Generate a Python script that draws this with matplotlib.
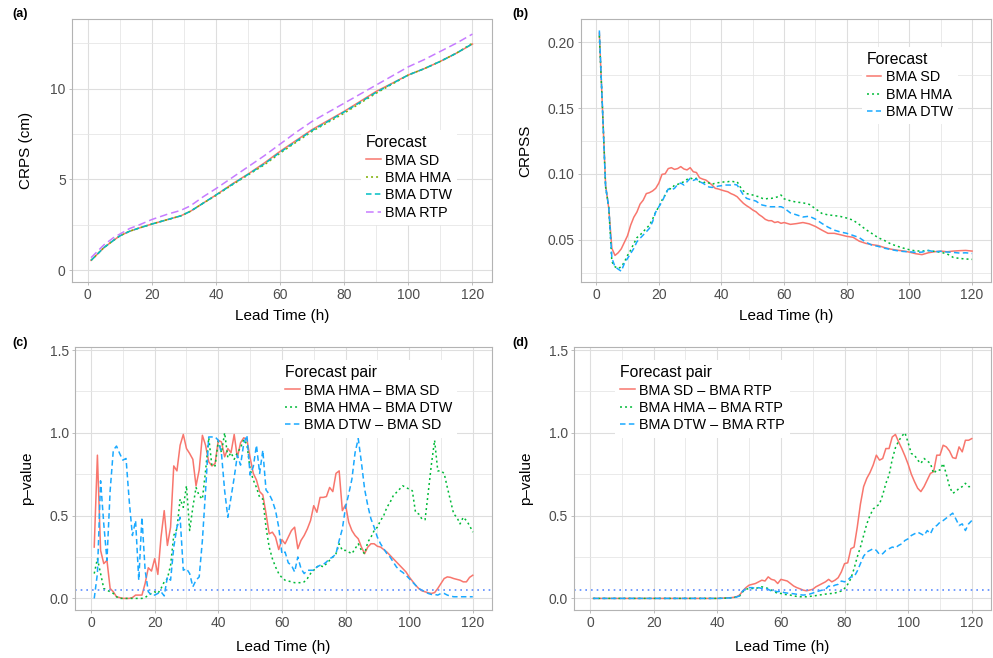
import matplotlib
matplotlib.use("Agg")
import matplotlib.pyplot as plt

plt.rcParams['font.family'] = ['Liberation Sans', 'DejaVu Sans']

# ---- data ----
# (a) CRPS
hours_a = [1, 3, 5, 8, 10, 13, 16, 20, 25, 29, 32, 36, 40, 45, 50, 55, 60, 65, 70,
           75, 80, 85, 90, 95, 100, 105, 110, 115, 120]
crps_sd = [0.55, 0.9, 1.25, 1.65, 1.9, 2.15, 2.33, 2.55, 2.8, 3.0, 3.25, 3.7, 4.15, 4.75,
           5.3, 5.9, 6.55, 7.15, 7.75, 8.25, 8.75, 9.3, 9.85, 10.3, 10.75, 11.1, 11.5, 11.95, 12.45]
crps_hma = [0.55, 0.9, 1.25, 1.65, 1.9, 2.15, 2.33, 2.55, 2.8, 3.0, 3.25, 3.7, 4.12, 4.7,
            5.25, 5.8, 6.45, 7.05, 7.65, 8.15, 8.65, 9.2, 9.75, 10.25, 10.75, 11.1, 11.5, 11.95, 12.5]
crps_dtw = [0.55, 0.9, 1.25, 1.65, 1.9, 2.15, 2.33, 2.55, 2.8, 3.0, 3.25, 3.7, 4.15, 4.72,
            5.28, 5.85, 6.5, 7.1, 7.7, 8.2, 8.72, 9.25, 9.8, 10.28, 10.75, 11.1, 11.5, 11.95, 12.47]
crps_rtp = [0.7, 1.05, 1.4, 1.8, 2.0, 2.3, 2.5, 2.8, 3.1, 3.3, 3.55, 4.05, 4.5, 5.1,
            5.7, 6.3, 6.95, 7.6, 8.2, 8.7, 9.2, 9.7, 10.2, 10.7, 11.2, 11.6, 12.05, 12.5, 13.0]

# (b) CRPSS
hours_b = list(range(1, 60)) + list(range(60, 121, 2))
crpss_sd = [0.207, 0.15, 0.0915, 0.074, 0.0434, 0.038, 0.040, 0.043, 0.048, 0.053,
            0.061, 0.067, 0.071, 0.077, 0.080, 0.085, 0.0857, 0.087, 0.089, 0.093,
            0.0996, 0.100, 0.104, 0.1047, 0.1034, 0.104, 0.1055, 0.1037, 0.103, 0.1047,
            0.1016, 0.101, 0.097, 0.096, 0.0953, 0.0935, 0.0915, 0.089, 0.0885, 0.0877,
            0.087, 0.0864, 0.085, 0.084, 0.0826, 0.080, 0.0776, 0.0758, 0.0743, 0.0725,
            0.0712, 0.069, 0.0674, 0.0654, 0.0644, 0.0644, 0.063, 0.0636, 0.0624,
            0.063, 0.0616, 0.0622, 0.063, 0.062, 0.060, 0.0573, 0.0548, 0.0548, 0.0537,
            0.0525, 0.0518, 0.0488, 0.0472, 0.0462, 0.0455, 0.044, 0.0428, 0.042, 0.0414,
            0.0405, 0.0393, 0.0386, 0.040, 0.0408, 0.0413, 0.0408, 0.0413, 0.0416, 0.0418, 0.0413]
crpss_hma = [0.205, 0.15, 0.09, 0.075, 0.0332, 0.0294, 0.028, 0.0294, 0.033, 0.038,
             0.042, 0.047, 0.0515, 0.0535, 0.056, 0.0586, 0.061, 0.0656, 0.071, 0.075,
             0.080, 0.0839, 0.089, 0.0885, 0.0915, 0.092, 0.093, 0.094, 0.0958, 0.097,
             0.0958, 0.0966, 0.094, 0.093, 0.094, 0.093, 0.092, 0.093, 0.0933, 0.0935,
             0.094, 0.094, 0.0945, 0.094, 0.094, 0.090, 0.087, 0.085, 0.0845, 0.0839,
             0.0831, 0.0826, 0.0814, 0.0809, 0.0814, 0.0814, 0.0819, 0.0826, 0.0839,
             0.081, 0.0795, 0.0785, 0.078, 0.0768, 0.0735, 0.070, 0.0688, 0.0683, 0.0676,
             0.0664, 0.0648, 0.0615, 0.0578, 0.0547, 0.0515, 0.0494, 0.0468, 0.0451, 0.0436,
             0.0423, 0.0414, 0.0413, 0.0417, 0.0411, 0.0404, 0.0392, 0.0365, 0.0357, 0.0353, 0.035]
crpss_dtw = [0.209, 0.15, 0.09, 0.075, 0.036, 0.0294, 0.0276, 0.026, 0.032, 0.0357,
             0.0395, 0.0433, 0.0484, 0.051, 0.0535, 0.056, 0.0586, 0.0636, 0.071, 0.075,
             0.0788, 0.0839, 0.0885, 0.0877, 0.089, 0.092, 0.093, 0.0915, 0.094, 0.0966,
             0.095, 0.096, 0.094, 0.093, 0.0915, 0.090, 0.0897, 0.090, 0.0907, 0.091,
             0.0915, 0.0915, 0.0915, 0.092, 0.0915, 0.0877, 0.0839, 0.0814, 0.0806, 0.080,
             0.0793, 0.0776, 0.0763, 0.0758, 0.075, 0.075, 0.075, 0.075, 0.075,
             0.074, 0.0703, 0.0688, 0.0672, 0.0678, 0.0656, 0.0624, 0.0595, 0.0572, 0.0558,
             0.0548, 0.0532, 0.0515, 0.0482, 0.0458, 0.0449, 0.0435, 0.0425, 0.0416, 0.041,
             0.0408, 0.0403, 0.0405, 0.0418, 0.0408, 0.0411, 0.0406, 0.0403, 0.0398, 0.040, 0.0395]

# (c) p-values, forecast pairs
hours_c = list(range(1, 121))
p_hma_sd = [0.31, 0.865, 0.29, 0.21, 0.23, 0.06, 0.04, 0.01, 0.005, 0.0,
            0.0, 0.0, 0.005, 0.02, 0.02, 0.02, 0.09, 0.185, 0.165, 0.24,
            0.145, 0.37, 0.53, 0.32, 0.43, 0.80, 0.77, 0.925, 0.99, 0.905,
            0.875, 0.84, 0.68, 0.775, 0.985, 0.925, 0.825, 0.80, 0.815, 0.955,
            0.945, 0.855, 0.905, 0.88, 0.99, 0.85, 0.94, 0.97, 0.96, 0.85,
            0.755, 0.715, 0.645, 0.625, 0.513, 0.39, 0.40, 0.37, 0.295, 0.355,
            0.33, 0.37, 0.41, 0.43, 0.30, 0.35, 0.38, 0.42, 0.47, 0.56,
            0.52, 0.61, 0.61, 0.615, 0.67, 0.645, 0.755, 0.77, 0.53, 0.565,
            0.46, 0.41, 0.38, 0.36, 0.31, 0.27, 0.31, 0.33, 0.33, 0.315,
            0.31, 0.295, 0.28, 0.26, 0.24, 0.22, 0.20, 0.18, 0.16, 0.13,
            0.105, 0.08, 0.06, 0.046, 0.04, 0.034, 0.03, 0.035, 0.06, 0.09,
            0.12, 0.13, 0.127, 0.12, 0.115, 0.11, 0.10, 0.10, 0.127, 0.14]
p_hma_dtw = [0.15, 0.24, 0.15, 0.06, 0.05, 0.04, 0.03, 0.01, 0.0, 0.0,
             0.0, 0.0, 0.0, 0.0, 0.0, 0.0, 0.005, 0.02, 0.03, 0.04,
             0.03, 0.06, 0.10, 0.12, 0.20, 0.38, 0.42, 0.60, 0.55, 0.68,
             0.41, 0.55, 0.67, 0.62, 0.60, 0.77, 0.97, 0.80, 0.80, 0.95,
             0.88, 1.0, 0.85, 0.88, 0.84, 0.88, 0.91, 0.96, 0.93, 0.78,
             0.715, 0.67, 0.61, 0.60, 0.43, 0.31, 0.24, 0.19, 0.15, 0.125,
             0.11, 0.105, 0.10, 0.095, 0.095, 0.095, 0.10, 0.12, 0.15, 0.17,
             0.19, 0.20, 0.19, 0.21, 0.23, 0.25, 0.27, 0.33, 0.29, 0.29,
             0.28, 0.27, 0.30, 0.33, 0.29, 0.27, 0.34, 0.37, 0.41, 0.43,
             0.47, 0.50, 0.55, 0.58, 0.62, 0.64, 0.66, 0.68, 0.67, 0.66,
             0.65, 0.52, 0.51, 0.48, 0.475, 0.64, 0.81, 0.955, 0.77, 0.77,
             0.755, 0.67, 0.59, 0.51, 0.49, 0.45, 0.49, 0.47, 0.44, 0.40]
p_dtw_sd = [0.0, 0.15, 0.71, 0.45, 0.23, 0.65, 0.895, 0.92, 0.875, 0.835,
            0.845, 0.59, 0.38, 0.47, 0.11, 0.49, 0.17, 0.04, 0.02, 0.02,
            0.03, 0.04, 0.015, 0.13, 0.11, 0.31, 0.43, 0.49, 0.17, 0.18,
            0.15, 0.07, 0.11, 0.13, 0.35, 0.65, 0.975, 0.975, 0.975, 0.955,
            0.875, 0.65, 0.49, 0.61, 0.73, 0.865, 0.805, 0.935, 0.985, 0.745,
            0.795, 0.925, 0.755, 0.895, 0.655, 0.63, 0.59, 0.53, 0.43, 0.27,
            0.28, 0.215, 0.20, 0.16, 0.25, 0.18, 0.15, 0.17, 0.17, 0.17,
            0.19, 0.20, 0.205, 0.22, 0.24, 0.25, 0.27, 0.35, 0.42, 0.55,
            0.63, 0.72, 0.88, 0.965, 0.82, 0.66, 0.56, 0.48, 0.43, 0.37,
            0.33, 0.30, 0.27, 0.25, 0.22, 0.19, 0.17, 0.157, 0.14, 0.12,
            0.10, 0.08, 0.06, 0.05, 0.04, 0.03, 0.024, 0.024, 0.02, 0.03,
            0.03, 0.02, 0.014, 0.01, 0.01, 0.01, 0.01, 0.01, 0.01, 0.01]

# (d) p-values against BMA RTP
hours_d = [1, 20, 40, 42, 44] + list(range(45, 121))
p_sd_rtp = [0.0, 0.0, 0.0, 0.002, 0.004, 0.006, 0.01, 0.02, 0.045, 0.065,
            0.08, 0.085, 0.09, 0.10, 0.11, 0.105, 0.13, 0.115, 0.11, 0.09,
            0.115, 0.11, 0.105, 0.09, 0.075, 0.065, 0.058, 0.05, 0.046, 0.05,
            0.055, 0.07, 0.08, 0.09, 0.10, 0.115, 0.10, 0.11, 0.125, 0.16,
            0.21, 0.215, 0.30, 0.31, 0.43, 0.57, 0.675, 0.725, 0.76, 0.805,
            0.865, 0.835, 0.845, 0.905, 0.905, 0.975, 0.99, 0.945, 0.905, 0.86,
            0.81, 0.75, 0.705, 0.665, 0.645, 0.675, 0.715, 0.755, 0.765, 0.865,
            0.865, 0.925, 0.915, 0.89, 0.85, 0.845, 0.915, 0.885, 0.955, 0.955, 0.965]
p_hma_rtp = [0.0, 0.0, 0.0, 0.001, 0.003, 0.005, 0.008, 0.015, 0.04, 0.055,
             0.06, 0.06, 0.06, 0.065, 0.07, 0.065, 0.06, 0.05, 0.04, 0.03,
             0.03, 0.025, 0.022, 0.02, 0.015, 0.012, 0.01, 0.01, 0.01, 0.012,
             0.014, 0.017, 0.02, 0.023, 0.026, 0.028, 0.03, 0.033, 0.038, 0.045,
             0.06, 0.085, 0.12, 0.18, 0.25, 0.31, 0.38, 0.45, 0.50, 0.54,
             0.555, 0.57, 0.625, 0.695, 0.745, 0.84, 0.91, 0.95, 0.98, 1.0,
             0.94, 0.875, 0.865, 0.835, 0.815, 0.845, 0.83, 0.815, 0.755, 0.775,
             0.775, 0.815, 0.75, 0.675, 0.635, 0.645, 0.665, 0.675, 0.695, 0.675, 0.675]
p_dtw_rtp = [0.0, 0.0, 0.0, 0.001, 0.003, 0.005, 0.008, 0.015, 0.045, 0.06,
             0.065, 0.065, 0.06, 0.065, 0.06, 0.06, 0.055, 0.045, 0.045, 0.04,
             0.045, 0.035, 0.032, 0.03, 0.028, 0.025, 0.022, 0.02, 0.022, 0.026,
             0.032, 0.04, 0.045, 0.05, 0.055, 0.075, 0.07, 0.08, 0.085, 0.105,
             0.10, 0.11, 0.13, 0.13, 0.165, 0.21, 0.255, 0.28, 0.29, 0.30,
             0.29, 0.265, 0.27, 0.29, 0.30, 0.31, 0.305, 0.32, 0.33, 0.35,
             0.36, 0.38, 0.39, 0.40, 0.39, 0.38, 0.41, 0.39, 0.43, 0.44,
             0.46, 0.47, 0.485, 0.50, 0.515, 0.48, 0.44, 0.45, 0.41, 0.45, 0.47]

alpha = 0.05

# ---- styles ----
RED, GREEN, BLUE = "#F8766D", "#00BA38", "#1AA9FF"
SOLID = "-"
DOTTED = (0, (1.3, 2.0))
DASHED = (0, (3.6, 2.2))
LONGDASH = (0, (5.0, 2.6))
LW = 1.1

fig = plt.figure(figsize=(9.93, 6.58), dpi=100)
W, H = 993.0, 658.0


def add_axes(left, top, right, bottom):
    return fig.add_axes([left / W, 1 - bottom / H, (right - left) / W, (bottom - top) / H])


def style(ax, ylim, yticks, ylabels, yminor):
    ax.set_xlim(-4.95, 125.95)
    ax.set_ylim(*ylim)
    ax.set_xticks(range(0, 121, 20))
    ax.set_xticks(range(10, 121, 20), minor=True)
    ax.set_yticks(yticks)
    ax.set_yticklabels(ylabels)
    ax.set_yticks(yminor, minor=True)
    ax.grid(which="major", color="#DEDEDE", lw=0.8)
    ax.grid(which="minor", color="#E6E6E6", lw=0.6)
    ax.set_axisbelow(True)
    for s in ax.spines.values():
        s.set_color("#B3B3B3")
        s.set_linewidth(0.8)
    ax.tick_params(which="major", length=2.5, width=0.6, color="#B3B3B3",
                   labelcolor="#4D4D4D", labelsize=10, pad=2)
    ax.tick_params(which="minor", length=0)


def labels(ax, xl, yl, xy, yx):
    ax.set_xlabel(xl, fontsize=11)
    ax.set_ylabel(yl, fontsize=11)
    ax.xaxis.set_label_coords(0.5, xy)
    ax.yaxis.set_label_coords(yx, 0.5)
    ax.xaxis.label.set_va("center")
    ax.yaxis.label.set_va("center")


def legend(ax, title, x, y):
    leg = ax.legend(title=title, loc="upper left", bbox_to_anchor=(x / W, 1 - y / H),
                    bbox_transform=fig.transFigure, frameon=True, fancybox=False,
                    framealpha=1, facecolor="white", edgecolor="none",
                    fontsize=10.4, title_fontsize=11.3, alignment="left",
                    handlelength=1.0, handletextpad=0.3, labelspacing=0.24,
                    borderpad=0.35, borderaxespad=0)
    return leg


# (a)
ax = add_axes(72, 19, 491.5, 282)
ax.plot(hours_a, crps_sd, color=RED, ls=SOLID, lw=LW, label="BMA SD")
ax.plot(hours_a, crps_hma, color="#7CAE00", ls=DOTTED, lw=LW, label="BMA HMA")
ax.plot(hours_a, crps_dtw, color="#00BFC4", ls=DASHED, lw=LW, label="BMA DTW")
ax.plot(hours_a, crps_rtp, color="#C77CFF", ls=LONGDASH, lw=LW, label="BMA RTP")
style(ax, (-0.64, 13.83), [0, 5, 10], ["0", "5", "10"], [2.5, 7.5, 12.5])
labels(ax, "Lead Time (h)", "CRPS (cm)", -0.129, -0.11)
legend(ax, "Forecast", 361, 130)

# (b)
ax = add_axes(580.7, 19, 990.7, 282)
ax.plot(hours_b, crpss_sd, color=RED, ls=SOLID, lw=LW, label="BMA SD")
ax.plot(hours_b, crpss_hma, color=GREEN, ls=DOTTED, lw=LW, label="BMA HMA")
ax.plot(hours_b, crpss_dtw, color=BLUE, ls=DASHED, lw=LW, label="BMA DTW")
style(ax, (0.0178, 0.2177), [0.05, 0.10, 0.15, 0.20], ["0.05", "0.10", "0.15", "0.20"],
      [0.025, 0.075, 0.125, 0.175])
labels(ax, "Lead Time (h)", "CRPSS", -0.129, -0.136)
legend(ax, "Forecast", 861.7, 46.7)

# (c)
ax = add_axes(75.3, 346.7, 491.7, 610)
ax.plot(hours_c, p_hma_sd, color=RED, ls=SOLID, lw=LW, label="BMA HMA – BMA SD")
ax.plot(hours_c, p_hma_dtw, color=GREEN, ls=DOTTED, lw=LW, label="BMA HMA – BMA DTW")
ax.plot(hours_c, p_dtw_sd, color=BLUE, ls=DASHED, lw=LW, label="BMA DTW – BMA SD")
ax.axhline(alpha, color="#5B8CFF", ls=(0, (1, 2.4)), lw=1.2)
style(ax, (-0.07, 1.52), [0, 0.5, 1.0, 1.5], ["0.0", "0.5", "1.0", "1.5"], [0.25, 0.75, 1.25])
labels(ax, "Lead Time (h)", "p–value", -0.1405, -0.116)
legend(ax, "Forecast pair", 280, 360)

# (d)
ax = add_axes(574.3, 346.7, 990.7, 610)
ax.plot(hours_d, p_sd_rtp, color=RED, ls=SOLID, lw=LW, label="BMA SD – BMA RTP")
ax.plot(hours_d, p_hma_rtp, color=GREEN, ls=DOTTED, lw=LW, label="BMA HMA – BMA RTP")
ax.plot(hours_d, p_dtw_rtp, color=BLUE, ls=DASHED, lw=LW, label="BMA DTW – BMA RTP")
ax.axhline(alpha, color="#5B8CFF", ls=(0, (1, 2.4)), lw=1.2)
style(ax, (-0.07, 1.52), [0, 0.5, 1.0, 1.5], ["0.0", "0.5", "1.0", "1.5"], [0.25, 0.75, 1.25])
labels(ax, "Lead Time (h)", "p–value", -0.1405, -0.116)
legend(ax, "Forecast pair", 615, 360)

# panel tags
for tag, x, y in [("(a)", 20.5, 14.5), ("(b)", 520, 14.5), ("(c)", 20.5, 343), ("(d)", 520, 343)]:
    fig.text(x / W, 1 - y / H, tag, fontsize=9, fontweight="bold", ha="center", va="center")

fig.savefig("out.png", dpi=100)
